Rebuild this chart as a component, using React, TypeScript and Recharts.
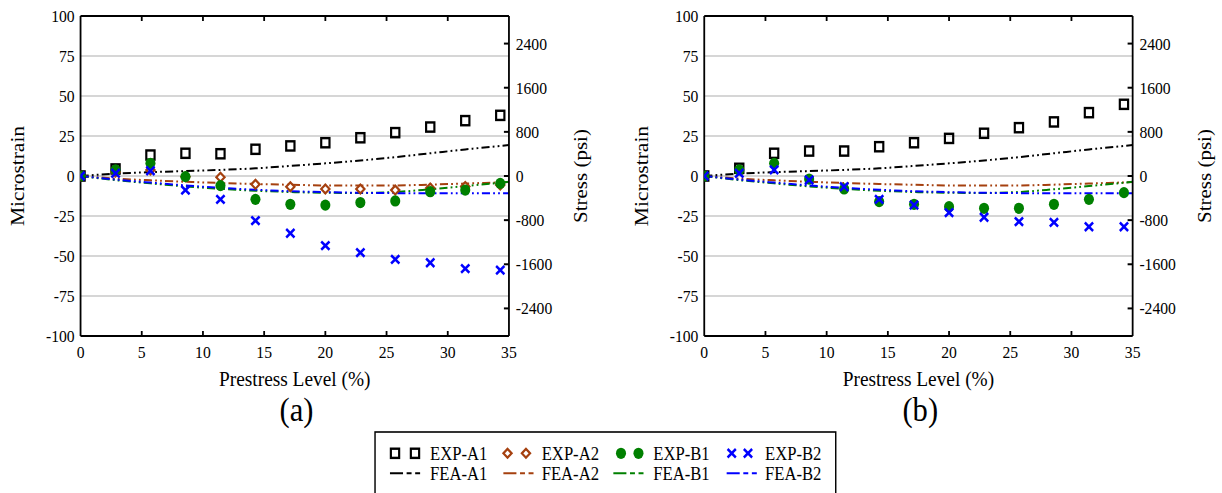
import React from 'react';
import { ComposedChart, Line, Scatter, XAxis, YAxis, CartesianGrid, ReferenceLine } from 'recharts';

// ---------- data ----------
const prestressExp = [0, 2.86, 5.71, 8.57, 11.43, 14.29, 17.14, 20, 22.86, 25.71, 28.57, 31.43, 34.29];
const prestressFea = [0, 2.86, 5.71, 8.57, 11.43, 14.29, 17.14, 20, 22.86, 25.71, 28.57, 31.43, 34.29, 35];

// panel (a)
const expA1a = [0, 4.4, 13.1, 14.2, 13.9, 16.7, 18.8, 20.8, 23.9, 27.1, 30.6, 34.6, 37.9];
const expA2a = [0, 2.5, 3.8, -0.4, -0.8, -5.2, -6.7, -8.1, -8.1, -8.8, -7.5, -6.5, -5.6];
const expB1a = [0, 3.8, 7.9, -0.4, -6.0, -14.6, -17.7, -18.2, -16.6, -15.6, -9.8, -8.8, -4.6];
const expB2a = [0, 1.7, 3.3, -8.8, -14.6, -27.9, -35.8, -43.5, -47.9, -52.1, -54.2, -57.9, -58.8];

// panel (b)
const expA1b = [0, 4.8, 14.2, 15.6, 15.6, 18.3, 20.8, 23.5, 26.7, 30.2, 33.8, 39.6, 44.8];
const expB1b = [0, 3.8, 7.9, -1.9, -8.1, -16.0, -17.7, -19.2, -20.2, -20.2, -17.7, -14.6, -10.4];
const expB2b = [0, 1.7, 3.8, -2.5, -6.7, -14.6, -18.1, -22.9, -25.8, -28.5, -29.0, -31.7, -31.7];

// FEA curves (same model in both panels)
const feaA1 = [0, 1.5, 2.4, 3.1, 3.8, 4.8, 6.3, 7.9, 9.7, 11.8, 14.2, 16.6, 18.8, 19.4];
const feaA2 = [0, -1.6, -2.7, -3.6, -4.4, -5.0, -5.5, -5.9, -6.0, -5.9, -5.4, -4.7, -4.0, -3.8];
const feaB1 = [0, -2.6, -4.6, -6.5, -8.0, -9.2, -10.0, -10.5, -10.6, -10.0, -8.3, -6.3, -4.2, -3.6];
const feaB2 = [0, -2.2, -4.1, -5.9, -7.4, -8.6, -9.5, -10.1, -10.5, -10.7, -10.8, -10.8, -10.8, -10.8];

const strainTicks = [-100, -75, -50, -25, 0, 25, 50, 75, 100];
const stressTicks = [-2400, -1600, -800, 0, 800, 1600, 2400];
const prestressTicks = [0, 5, 10, 15, 20, 25, 30, 35];

const legendExp = ['EXP-A1', 'EXP-A2', 'EXP-B1', 'EXP-B2'];
const legendFea = ['FEA-A1', 'FEA-A2', 'FEA-B1', 'FEA-B2'];

// ---------- style ----------
const SX = 0.9;
const FONT = "'Liberation Serif', Tinos, 'DejaVu Serif', 'Noto Serif', serif";
const TXT = { fontFamily: FONT };
const PLOT_TOP = 16;
const PLOT_BOTTOM = 336;
const BLACK = '#000000';
const BROWN = '#A5400F';
const GREEN = '#008000';
const BLUE = '#0000FF';
const GRID = '#C8C8C8';
const DASH = '9 3.5 2 3.5 2 3.5';

const pts = (xs: number[], ys: number[]) => xs.map((x, i) => ({ x, y: ys[i] }));

const SquareShape = (p: any) => (
  <rect x={p.cx - 4.6} y={p.cy - 4.6} width={9.2} height={9.2} fill="none" stroke={BLACK} strokeWidth={2.4} />
);
const DiamondShape = (p: any) => (
  <polygon
    points={`${p.cx},${p.cy - 4.4} ${p.cx + 4.6},${p.cy} ${p.cx},${p.cy + 4.4} ${p.cx - 4.6},${p.cy}`}
    fill="#ffffff"
    stroke={BROWN}
    strokeWidth={2.3}
  />
);
const CircleShape = (p: any) => <circle cx={p.cx} cy={p.cy} r={5.6} fill={GREEN} />;
const XShape = (p: any) => (
  <g stroke={BLUE} strokeWidth={2.7}>
    <line x1={p.cx - 4.6} y1={p.cy - 4.2} x2={p.cx + 4.6} y2={p.cy + 4.2} />
    <line x1={p.cx - 4.6} y1={p.cy + 4.2} x2={p.cx + 4.6} y2={p.cy - 4.2} />
  </g>
);

const LeftTick = (p: any) => (
  <text x={p.x - 6.5} y={p.y} dy="0.35em" textAnchor="end" fontSize={17.4} style={TXT} fill={BLACK}>
    {p.payload.value}
  </text>
);
const RightTick = (p: any) => (
  <g>
    <line x1={p.x} x2={p.x - 5.6} y1={p.y} y2={p.y} stroke={BLACK} strokeWidth={2} />
    <text x={p.x + 7.5} y={p.y} dy="0.35em" textAnchor="start" fontSize={17.4} style={TXT} fill={BLACK}>
      {p.payload.value}
    </text>
  </g>
);
const BottomTick = (p: any) => {
  const v = p.payload.value;
  const inner = v > 0 && v < 35;
  return (
    <g>
      {inner && <line x1={p.x} x2={p.x} y1={PLOT_BOTTOM} y2={PLOT_BOTTOM - 5} stroke={BLACK} strokeWidth={2} />}
      {inner && <line x1={p.x} x2={p.x} y1={PLOT_TOP} y2={PLOT_TOP + 5} stroke={BLACK} strokeWidth={2} />}
      <text x={p.x} y={PLOT_BOTTOM + 10} dy="0.71em" textAnchor="middle" fontSize={17.4} style={TXT} fill={BLACK}>
        {v}
      </text>
    </g>
  );
};

type PanelProps = {
  left: number;
  a1: number[];
  a2: number[] | null;
  b1: number[];
  b2: number[];
};

const CHART_W = 700;
const CHART_H = 400;
const YL_W = 89.5;
const PLOT_W = 476;
const YR_W = CHART_W - YL_W - PLOT_W;

function Panel({ left, a1, a2, b1, b2 }: PanelProps) {
  return (
    <div style={{ position: 'absolute', left, top: 0 }}>
      <ComposedChart width={CHART_W} height={CHART_H} margin={{ top: PLOT_TOP, right: 0, bottom: 0, left: 0 }}>
        <CartesianGrid yAxisId="left" vertical={false} stroke={GRID} strokeWidth={1.6} />
        <XAxis
          type="number"
          dataKey="x"
          domain={[0, 35]}
          ticks={prestressTicks}
          interval={0}
          height={CHART_H - PLOT_BOTTOM}
          tickSize={0}
          tickMargin={0}
          tickLine={false}
          tick={BottomTick}
          axisLine={{ stroke: BLACK, strokeWidth: 2 }}
          allowDataOverflow
        />
        <YAxis
          yAxisId="left"
          type="number"
          dataKey="y"
          domain={[-100, 100]}
          ticks={strainTicks}
          interval={0}
          width={YL_W}
          tickSize={0}
          tickMargin={0}
          tickLine={false}
          tick={LeftTick}
          axisLine={{ stroke: BLACK, strokeWidth: 2 }}
          allowDataOverflow
        />
        <YAxis
          yAxisId="right"
          orientation="right"
          type="number"
          domain={[-2900, 2900]}
          ticks={stressTicks}
          interval={0}
          width={YR_W}
          tickSize={0}
          tickMargin={0}
          tickLine={false}
          tick={RightTick}
          axisLine={{ stroke: BLACK, strokeWidth: 2 }}
          allowDataOverflow
        />
        <ReferenceLine yAxisId="left" y={100} stroke={BLACK} strokeWidth={2} />
        <Line data={pts(prestressFea, feaA1)} yAxisId="left" dataKey="y" type="monotone" stroke={BLACK} strokeWidth={2} strokeDasharray={DASH} dot={false} isAnimationActive={false} />
        <Line data={pts(prestressFea, feaA2)} yAxisId="left" dataKey="y" type="monotone" stroke={BROWN} strokeWidth={2} strokeDasharray={DASH} dot={false} isAnimationActive={false} />
        <Line data={pts(prestressFea, feaB1)} yAxisId="left" dataKey="y" type="monotone" stroke={GREEN} strokeWidth={2} strokeDasharray={DASH} dot={false} isAnimationActive={false} />
        <Line data={pts(prestressFea, feaB2)} yAxisId="left" dataKey="y" type="monotone" stroke={BLUE} strokeWidth={2} strokeDasharray={DASH} dot={false} isAnimationActive={false} />
        <Scatter data={pts(prestressExp, a1)} yAxisId="left" dataKey="y" shape={SquareShape} isAnimationActive={false} />
        {a2 && <Scatter data={pts(prestressExp, a2)} yAxisId="left" dataKey="y" shape={DiamondShape} isAnimationActive={false} />}
        <Scatter data={pts(prestressExp, b1)} yAxisId="left" dataKey="y" shape={CircleShape} isAnimationActive={false} />
        <Scatter data={pts(prestressExp, b2)} yAxisId="left" dataKey="y" shape={XShape} isAnimationActive={false} />
      </ComposedChart>
    </div>
  );
}

const PANEL_A_LEFT = 0;
const PANEL_B_LEFT = 693;

function Titles({ left, tag }: { left: number; tag: string }) {
  const plotL = left + YL_W;
  const plotR = plotL + PLOT_W;
  const cx = (plotL + plotR) / 2;
  const cy = (PLOT_TOP + PLOT_BOTTOM) / 2;
  return (
    <g style={TXT} fill={BLACK}>
      <text x={plotL - 63} y={cy} transform={`rotate(-90 ${plotL - 63} ${cy})`} textAnchor="middle" fontSize={21.5} style={TXT}>
        Microstrain
      </text>
      <text x={plotR + 87} y={cy} transform={`rotate(-90 ${plotR + 87} ${cy})`} textAnchor="middle" fontSize={21} style={TXT}>
        Stress (psi)
      </text>
      <text x={cx} y={386} textAnchor="middle" fontSize={21.5} style={TXT}>
        Prestress Level (%)
      </text>
      <text x={cx + 2} y={421} textAnchor="middle" fontSize={34} style={TXT}>
        {tag}
      </text>
    </g>
  );
}

const legendMarkerX = [[438.9, 461.1], [563.9, 584.4], [690, 709.4], [813, 831.1]];
const legendTextX = [477.8, 601.9, 725.9, 850];
const legendLineX = [433.3, 559.3, 681.5, 807.4];
const legendColors = [BLACK, BROWN, GREEN, BLUE];
const legendShapes = [SquareShape, DiamondShape, CircleShape, XShape];

function LegendBox() {
  const r1 = 453.3;
  const r2 = 473.3;
  return (
    <g style={TXT} fill={BLACK}>
      <rect x={416.7} y={432} width={511.9} height={90} fill="#ffffff" stroke={BLACK} strokeWidth={1.6} />
      {legendExp.map((name, i) => {
        const Shape = legendShapes[i];
        return (
          <g key={name}>
            <Shape cx={legendMarkerX[i][0]} cy={r1} />
            <Shape cx={legendMarkerX[i][1]} cy={r1} />
            <text x={legendTextX[i]} y={r1} dy="0.35em" fontSize={18.5} style={TXT}>
              {name}
            </text>
          </g>
        );
      })}
      {legendFea.map((name, i) => (
        <g key={name}>
          <line
            x1={legendLineX[i]}
            x2={legendLineX[i] + 33.5}
            y1={r2}
            y2={r2}
            stroke={legendColors[i]}
            strokeWidth={2}
            strokeDasharray="14.5 4 5.5 4 5.5 20"
          />
          <text x={legendTextX[i]} y={r2} dy="0.35em" fontSize={18.5} style={TXT}>
            {name}
          </text>
        </g>
      ))}
    </g>
  );
}

export default function App() {
  const innerW = 1222 / SX;
  return (
    <div style={{ position: 'absolute', left: 0, top: 0, width: 1222, height: 493, overflow: 'hidden', background: '#ffffff', fontFamily: FONT }}>
      <div style={{ position: 'absolute', left: 0, top: 0, width: innerW, height: 493, transform: `scaleX(${SX})`, transformOrigin: '0 0' }}>
        <Panel left={PANEL_A_LEFT} a1={expA1a} a2={expA2a} b1={expB1a} b2={expB2a} />
        <Panel left={PANEL_B_LEFT} a1={expA1b} a2={null} b1={expB1b} b2={expB2b} />
        <svg style={{ position: 'absolute', left: 0, top: 0, pointerEvents: 'none' }} width={innerW} height={493}>
          <Titles left={PANEL_A_LEFT} tag="(a)" />
          <Titles left={PANEL_B_LEFT} tag="(b)" />
          <LegendBox />
        </svg>
      </div>
    </div>
  );
}
